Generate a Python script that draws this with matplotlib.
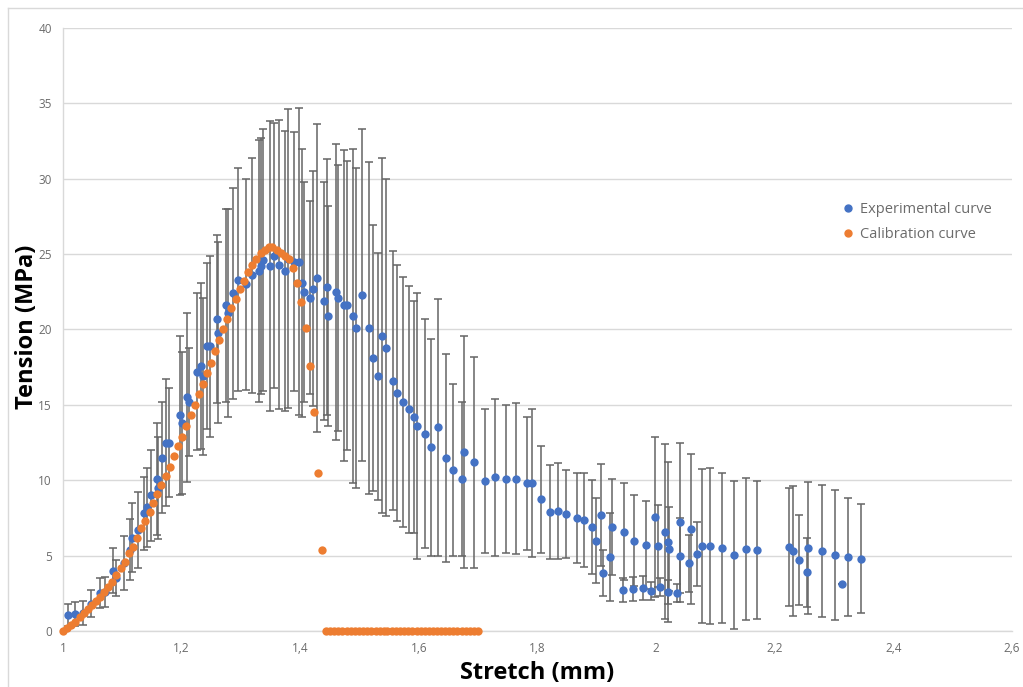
import matplotlib
matplotlib.use("Agg")
import matplotlib.pyplot as plt
from matplotlib.lines import Line2D

plt.rcParams['font.family'] = ['Open Sans', 'DejaVu Sans']

# Experimental curve: stretch, tension, error (symmetric)
exp_x = [1.008, 1.020, 1.034, 1.048, 1.062, 1.071, 1.084, 1.089, 1.103, 1.113,
         1.116, 1.126, 1.137, 1.141, 1.148, 1.158, 1.160, 1.167, 1.174, 1.178,
         1.197, 1.200, 1.209, 1.212, 1.226, 1.233, 1.236, 1.243, 1.248, 1.260,
         1.262, 1.275, 1.279, 1.287, 1.295, 1.309, 1.319, 1.330, 1.334, 1.337,
         1.349, 1.356, 1.364, 1.374, 1.379, 1.390, 1.398, 1.403, 1.406, 1.416,
         1.422, 1.428, 1.440, 1.445, 1.447, 1.460, 1.464, 1.474, 1.479, 1.489,
         1.494, 1.504, 1.516, 1.523, 1.531, 1.538, 1.545, 1.557, 1.563, 1.573,
         1.583, 1.592, 1.597, 1.610, 1.621, 1.632, 1.646, 1.658, 1.673, 1.676,
         1.693, 1.712, 1.729, 1.747, 1.764, 1.782, 1.791, 1.806, 1.821, 1.835,
         1.848, 1.867, 1.879, 1.892, 1.899, 1.907, 1.911, 1.922, 1.926, 1.944,
         1.946, 1.961, 1.963, 1.978, 1.983, 1.992, 1.998, 2.003, 2.007, 2.015,
         2.020, 2.020, 2.022, 2.035, 2.040, 2.040, 2.056, 2.059, 2.069, 2.078,
         2.090, 2.111, 2.132, 2.152, 2.170, 2.224, 2.231, 2.241, 2.255, 2.256,
         2.280, 2.302, 2.314, 2.324, 2.346]
exp_y = [1.06, 1.1, 1.2, 1.8, 2.5, 2.6, 4.0, 3.5, 4.5, 5.4,
         6.2, 6.7, 7.8, 8.2, 9.0, 10.1, 9.5, 11.5, 12.5, 12.5,
         14.3, 13.8, 15.5, 15.2, 17.2, 17.6, 16.9, 18.9, 18.9, 20.7,
         19.8, 21.6, 21.1, 22.4, 23.3, 23.0, 23.6, 23.9, 24.2, 24.6,
         24.2, 24.9, 24.3, 23.9, 24.7, 24.5, 24.5, 23.1, 22.5, 22.1,
         22.7, 23.4, 21.9, 22.8, 20.9, 22.5, 22.1, 21.6, 21.6, 20.9,
         20.1, 22.3, 20.1, 18.1, 16.9, 19.6, 18.8, 16.6, 15.8, 15.2,
         14.7, 14.2, 13.6, 13.1, 12.2, 13.5, 11.5, 10.7, 10.1, 11.9,
         11.2, 9.95, 10.2, 10.1, 10.1, 9.8, 9.8, 8.75, 7.9, 7.96,
         7.76, 7.5, 7.36, 6.9, 6.0, 7.7, 3.85, 4.9, 6.9, 2.7,
         6.6, 2.8, 6.0, 2.85, 5.7, 2.65, 7.56, 5.64, 2.9, 6.6,
         2.6, 5.9, 5.44, 2.5, 7.2, 5.0, 4.5, 6.76, 5.1, 5.64,
         5.64, 5.5, 5.04, 5.44, 5.37, 5.57, 5.3, 4.7, 3.9, 5.5,
         5.3, 5.04, 3.1, 4.9, 4.8]
exp_err = [0.7, 0.8, 0.8, 0.9, 1.0, 1.0, 1.5, 1.2, 1.8, 2.0,
           2.3, 2.5, 2.4, 2.6, 3.0, 3.7, 3.4, 3.7, 4.2, 3.6,
           5.3, 4.7, 5.6, 3.6, 5.2, 5.5, 5.2, 5.5, 6.0, 5.6,
           6.0, 6.4, 6.9, 7.0, 7.4, 7.0, 7.8, 8.7, 8.5, 8.7,
           9.6, 8.8, 9.6, 9.3, 9.9, 8.6, 10.2, 8.9, 7.3, 6.4,
           7.8, 10.2, 7.9, 8.5, 7.3, 9.8, 8.8, 10.3, 9.6, 11.1,
           10.6, 11.0, 11.0, 8.8, 8.2, 11.8, 11.2, 8.6, 8.5, 8.3,
           8.2, 7.7, 8.8, 7.6, 7.2, 8.5, 6.9, 5.7, 5.1, 7.7,
           7.0, 4.75, 5.2, 4.9, 5.0, 4.4, 4.9, 3.55, 3.1, 3.2,
           2.9, 3.0, 3.1, 3.1, 2.8, 3.4, 1.55, 2.9, 3.2, 0.8,
           3.2, 0.8, 3.0, 0.8, 2.9, 0.6, 5.3, 2.7, 0.6, 5.8,
           0.8, 5.3, 2.8, 0.6, 5.3, 2.5, 1.9, 5.0, 2.1, 5.1,
           5.2, 5.0, 4.9, 4.7, 4.6, 3.9, 4.3, 3.0, 2.3, 4.4,
           4.4, 4.3, 0.0, 3.9, 3.6]

# Calibration curve
cal_x = [1.000, 1.007, 1.014, 1.021, 1.028, 1.035, 1.042, 1.049, 1.055, 1.062,
         1.069, 1.076, 1.083, 1.090, 1.097, 1.104, 1.111, 1.118, 1.125, 1.132,
         1.139, 1.146, 1.152, 1.159, 1.166, 1.173, 1.180, 1.187, 1.194, 1.201,
         1.208, 1.215, 1.222, 1.229, 1.236, 1.243, 1.249, 1.256, 1.263, 1.270,
         1.277, 1.284, 1.291, 1.298, 1.305, 1.312, 1.319, 1.326, 1.333, 1.340,
         1.347, 1.353, 1.360, 1.367, 1.374, 1.381, 1.388, 1.395, 1.402, 1.409,
         1.416, 1.423, 1.430, 1.437, 1.444, 1.450, 1.457, 1.464, 1.471, 1.478,
         1.485, 1.492, 1.499, 1.506, 1.513, 1.520, 1.527, 1.534, 1.541, 1.547,
         1.554, 1.561, 1.568, 1.575, 1.582, 1.589, 1.596, 1.603, 1.610, 1.617,
         1.624, 1.631, 1.638, 1.644, 1.651, 1.658, 1.665, 1.672, 1.679, 1.686,
         1.693, 1.700]
cal_y = [0, 0.2, 0.4, 0.6, 0.9, 1.2, 1.45, 1.7, 2.0, 2.25,
         2.6, 2.9, 3.25, 3.7, 4.2, 4.6, 5.2, 5.6, 6.2, 6.8,
         7.3, 7.9, 8.5, 9.1, 9.7, 10.3, 10.9, 11.6, 12.3, 12.9,
         13.6, 14.3, 15.0, 15.7, 16.4, 17.1, 17.8, 18.6, 19.3, 20.0,
         20.7, 21.4, 22.0, 22.7, 23.2, 23.8, 24.3, 24.7, 25.1, 25.3,
         25.5, 25.5, 25.3, 25.1, 24.9, 24.7, 24.1, 23.1, 21.8, 20.1,
         17.6, 14.5, 10.5, 5.4, 0, 0, 0, 0, 0, 0,
         0, 0, 0, 0, 0, 0, 0, 0, 0, 0,
         0, 0, 0, 0, 0, 0, 0, 0, 0, 0,
         0, 0, 0, 0, 0, 0, 0, 0, 0, 0,
         0, 0]

x_ticks = [1.0, 1.2, 1.4, 1.6, 1.8, 2.0, 2.2, 2.4, 2.6]
x_tick_labels = ["1", "1,2", "1,4", "1,6", "1,8", "2", "2,2", "2,4", "2,6"]
y_ticks = [0, 5, 10, 15, 20, 25, 30, 35, 40]

BLUE = '#4472C4'
ORANGE = '#ED7D31'
GRID = '#D9D9D9'
TICK = '#6b6b6b'

fig = plt.figure(figsize=(10.23, 6.87), dpi=100)
ax = fig.add_axes([63/1023, 56/687, (1012-63)/1023, (631-28)/687])

ax.errorbar(exp_x, exp_y, yerr=exp_err, fmt='none', ecolor='#656565',
            elinewidth=1.1, capsize=3, capthick=1.1, zorder=2)
ax.plot(exp_x, exp_y, 'o', color=BLUE, markersize=6, markeredgewidth=0, zorder=3)
ax.plot(cal_x, cal_y, 'o', color=ORANGE, markersize=6, markeredgewidth=0, zorder=4,
        clip_on=False)

ax.set_xlim(1.0, 2.6)
ax.set_ylim(0, 40)
ax.set_xticks(x_ticks)
ax.set_xticklabels(x_tick_labels)
ax.set_yticks(y_ticks)
ax.tick_params(axis='both', length=0, labelsize=8.5, labelcolor=TICK, pad=8)
ax.yaxis.grid(True, color=GRID, linewidth=1)
ax.set_axisbelow(True)
for s in ['top', 'right']:
    ax.spines[s].set_visible(False)
ax.spines['left'].set_color(GRID)
ax.spines['bottom'].set_color(GRID)
ax.spines['left'].set_linewidth(1)
ax.spines['bottom'].set_linewidth(1)

ax.set_xlabel("Stretch (mm)", fontsize=17, fontweight='bold', color='black', labelpad=4)
ax.set_ylabel("Tension (MPa)", fontsize=17, fontweight='bold', color='black')
ax.yaxis.set_label_coords((39 - 63) / 949, 0.505)

handles = [Line2D([], [], marker='o', linestyle='none', color=BLUE, markersize=5),
           Line2D([], [], marker='o', linestyle='none', color=ORANGE, markersize=5)]
leg = fig.legend(handles, ["Experimental curve", "Calibration curve"],
                 loc='upper left', bbox_to_anchor=(826/1023, 1 - 189/687),
                 frameon=False, fontsize=10.5, labelcolor=TICK,
                 handletextpad=0.2, labelspacing=0.7, handlelength=1.2)

# outer chart border (partially visible)
fig.add_artist(Line2D([8/1023, 8/1023], [0, 1 - 8/687], color=GRID, linewidth=1,
                      transform=fig.transFigure))
fig.add_artist(Line2D([8/1023, 1], [1 - 8/687, 1 - 8/687], color=GRID, linewidth=1,
                      transform=fig.transFigure))

fig.savefig("out.png", dpi=100)
